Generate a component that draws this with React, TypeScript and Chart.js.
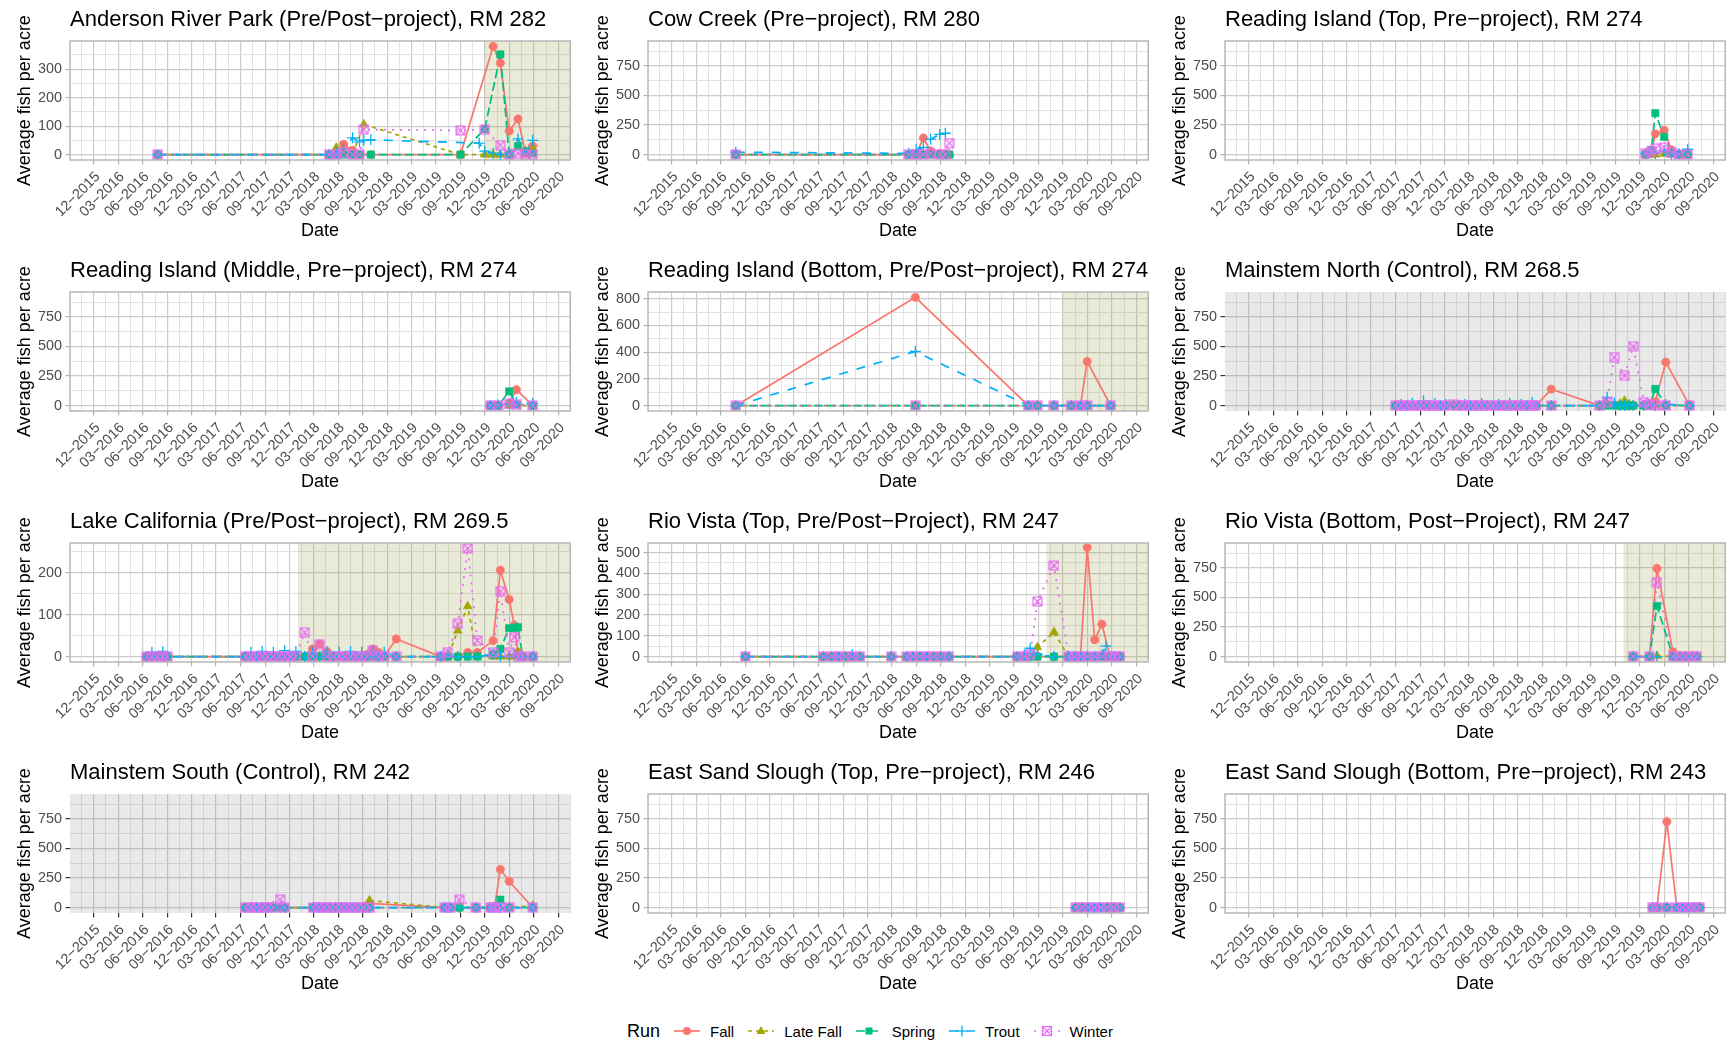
import React, { useEffect, useRef } from "react";
import { Chart, registerables } from "chart.js";

Chart.register(...registerables);

type Row = [string, number | null, number | null, number | null, number | null, number | null];

// Run names, in legend order; each row below is [date, Fall, Late Fall, Spring, Trout, Winter]
const RUNS = ["Fall", "Late Fall", "Spring", "Trout", "Winter"];

const X_TICK_LABELS = [
  "12−2015", "03−2016", "06−2016", "09−2016", "12−2016", "03−2017", "06−2017",
  "09−2017", "12−2017", "03−2018", "06−2018", "09−2018", "12−2018", "03−2019",
  "06−2019", "09−2019", "12−2019", "03−2020", "06−2020", "09−2020",
];
const X_RANGE = ["2015-09-03", "2020-10-15"];

const ANDERSON: Row[] = [
  ["2016-07-27", 0, 0, 0, 0, 0],
  ["2018-04-28", 0, 0, 0, 0, 0],
  ["2018-05-25", 5, 24, 0, 5, 0],
  ["2018-06-21", 36, 10, 0, 20, 8],
  ["2018-07-25", 15, 0, 0, 59, 0],
  ["2018-08-20", 0, null, 0, 45, 0],
  ["2018-09-05", null, 106, null, 50, 88],
  ["2018-10-01", 0, null, 0, 52, null],
  ["2019-09-01", 0, 0, 0, null, 85],
  ["2019-11-10", null, null, null, 40, null],
  ["2019-12-01", null, 0, 90, 12, 88],
  ["2020-01-01", 380, 0, null, 5, null],
  ["2020-01-28", 322, 0, 352, 0, 33],
  ["2020-03-01", 83, 0, 0, 5, 0],
  ["2020-04-03", 125, 25, 30, 55, 5],
  ["2020-05-01", 5, 10, 10, 10, 0],
  ["2020-05-28", 30, 20, 5, 50, 0],
];

const COW_CREEK: Row[] = [
  ["2016-07-27", 0, 0, 0, 20, 0],
  ["2018-05-04", 0, 0, 0, 10, 0],
  ["2018-06-01", 0, 0, 0, 40, 0],
  ["2018-06-28", 140, 0, 0, 60, 0],
  ["2018-07-25", 30, 0, 0, 130, 10],
  ["2018-08-28", 10, 0, 0, 170, 0],
  ["2018-09-18", 0, 0, 0, 180, 0],
  ["2018-10-03", 0, 0, 0, null, 97],
];

const READING_TOP: Row[] = [
  ["2019-12-22", 0, 0, 0, 10, 10],
  ["2020-01-13", 20, 0, 40, 20, 30],
  ["2020-01-28", 175, 0, 350, 10, 50],
  ["2020-03-01", 205, 5, 150, 30, 60],
  ["2020-03-28", 40, 0, 10, 0, 20],
  ["2020-04-25", 0, 0, 0, 10, 0],
  ["2020-05-28", 0, 0, 0, 45, 0],
];

const READING_MIDDLE: Row[] = [
  ["2019-12-22", 0, 0, 0, 0, 0],
  ["2020-01-20", 0, 0, 0, 5, 0],
  ["2020-03-01", 20, 0, 120, 10, 15],
  ["2020-03-28", 135, 0, 10, 25, 5],
  ["2020-05-28", 0, 0, 0, 15, 0],
];

const READING_BOTTOM: Row[] = [
  ["2016-07-27", 0, 0, 0, 0, 0],
  ["2018-05-29", 810, 0, 0, 405, 0],
  ["2019-07-25", 0, 0, 0, 0, 0],
  ["2019-08-28", 0, 0, 0, 0, 0],
  ["2019-10-29", 0, 0, 0, 0, 0],
  ["2020-01-01", 0, 0, 0, 0, 0],
  ["2020-02-05", 0, 0, 0, 0, 0],
  ["2020-03-01", 330, 0, 0, 0, 0],
  ["2020-05-28", 0, 0, 0, 0, 0],
];

const MAINSTEM_NORTH: Row[] = [
  ["2017-06-01", 0, 0, 0, 0, 0],
  ["2017-06-22", 0, 0, 0, 10, 0],
  ["2017-07-13", 0, 0, 0, 0, 0],
  ["2017-08-03", 0, 0, 0, 20, 0],
  ["2017-08-24", 0, 0, 0, 0, 0],
  ["2017-09-14", 0, 0, 0, 40, 0],
  ["2017-10-05", 0, 0, 0, 0, 0],
  ["2017-10-26", 0, 0, 0, 15, 0],
  ["2017-11-16", 0, 0, 0, 0, 0],
  ["2017-12-07", 0, 0, 0, 10, 0],
  ["2018-01-04", 0, 0, 0, 0, 10],
  ["2018-01-25", 0, 0, 0, 0, 0],
  ["2018-02-15", 0, 0, 0, 10, 0],
  ["2018-03-08", 0, 0, 0, 0, 0],
  ["2018-03-29", 0, 0, 0, 0, 0],
  ["2018-04-19", 0, 0, 0, 15, 0],
  ["2018-05-10", 0, 0, 0, 0, 0],
  ["2018-05-31", 0, 0, 0, 0, 0],
  ["2018-06-21", 0, 0, 0, 10, 0],
  ["2018-07-12", 0, 0, 0, 0, 0],
  ["2018-08-02", 0, 0, 0, 20, 0],
  ["2018-08-23", 0, 0, 0, 0, 0],
  ["2018-09-13", 0, 0, 0, 10, 0],
  ["2018-10-04", 0, 0, 0, 0, 0],
  ["2018-10-25", 0, 0, 0, 25, 0],
  ["2018-11-08", 0, 0, 0, 0, 0],
  ["2019-01-04", 139, 0, 0, 0, 0],
  ["2019-07-04", 0, 0, 0, 0, 0],
  ["2019-08-01", 10, 5, 0, 70, 30],
  ["2019-08-28", 5, 0, 0, 20, 410],
  ["2019-09-18", 0, 15, 0, 0, null],
  ["2019-10-05", 0, 40, 0, 0, 250],
  ["2019-10-22", 0, 10, 0, 5, null],
  ["2019-11-06", 0, 0, 0, 0, 500],
  ["2019-12-16", 5, 0, 0, 0, 30],
  ["2020-01-06", 10, 0, 0, 10, 10],
  ["2020-01-28", 35, 0, 140, 0, 0],
  ["2020-03-07", 367, 0, 5, 10, 0],
  ["2020-06-04", 0, 0, 0, 0, 0],
];

const LAKE_CALIFORNIA: Row[] = [
  ["2016-06-16", 0, 0, 0, 0, 0],
  ["2016-07-05", 0, 0, 0, 10, 0],
  ["2016-07-25", 0, 0, 0, 0, 0],
  ["2016-08-15", 0, 0, 0, 12, 0],
  ["2016-09-01", 0, 0, 0, 0, 0],
  ["2017-06-19", 0, 0, 0, 0, 0],
  ["2017-07-10", 0, 0, 0, 10, 0],
  ["2017-07-31", 0, 0, 0, 0, 0],
  ["2017-08-21", 0, 0, 0, 12, 0],
  ["2017-09-11", 0, 0, 0, 0, 0],
  ["2017-10-02", 0, 0, 0, 10, 0],
  ["2017-10-23", 0, 0, 0, 0, 0],
  ["2017-11-13", 0, 0, 0, 14, 0],
  ["2017-12-04", 0, 0, 0, 0, 0],
  ["2017-12-25", 0, 0, 0, 12, 0],
  ["2018-01-27", 0, 0, 0, 0, 58],
  ["2018-02-25", 18, 0, 0, 10, 0],
  ["2018-03-24", 30, 0, 0, 0, 28],
  ["2018-04-20", 12, 0, 0, 12, 0],
  ["2018-05-15", 0, 0, 0, 0, 0],
  ["2018-06-05", 0, 0, 0, 10, 0],
  ["2018-06-26", 0, 0, 0, 0, 0],
  ["2018-07-17", 0, 0, 0, 12, 0],
  ["2018-08-07", 0, 0, 0, 0, 0],
  ["2018-08-28", 0, 0, 0, 10, 0],
  ["2018-09-18", 5, 0, 0, 0, 0],
  ["2018-10-09", 18, 0, 0, 12, 15],
  ["2018-10-30", 10, 0, 0, 0, 0],
  ["2018-11-20", 0, 0, 0, 10, 0],
  ["2019-01-04", 42, 0, 0, 0, 0],
  ["2019-06-19", 0, 0, 0, 0, 0],
  ["2019-07-16", 0, 0, 0, 5, 10],
  ["2019-08-22", 0, 62, 0, 0, 78],
  ["2019-09-28", 10, 120, 0, 0, 258],
  ["2019-11-03", 10, 0, 0, 0, 38],
  ["2020-01-01", 38, 0, 5, 5, 10],
  ["2020-01-28", 206, 0, 18, 0, 156],
  ["2020-03-01", 136, 0, 68, 0, 10],
  ["2020-03-20", 75, 0, 68, 5, 46],
  ["2020-04-03", 10, 10, 70, 0, 0],
  ["2020-04-20", 0, 0, 0, 0, 0],
  ["2020-05-28", 0, 0, 0, 0, 0],
];

const RIO_VISTA_TOP: Row[] = [
  ["2016-09-01", 0, 0, 0, 0, 0],
  ["2017-06-19", 0, 0, 0, 0, 0],
  ["2017-07-20", 0, 0, 0, 0, 0],
  ["2017-08-15", 0, 0, 0, 0, 0],
  ["2017-09-10", 0, 0, 0, 0, 0],
  ["2017-10-05", 0, 0, 0, 10, 0],
  ["2017-11-03", 0, 0, 0, 0, 0],
  ["2018-02-27", 0, 0, 0, 0, 0],
  ["2018-04-27", 0, 0, 0, 0, 0],
  ["2018-05-20", 0, 0, 0, 0, 0],
  ["2018-06-15", 0, 0, 0, 0, 0],
  ["2018-07-10", 0, 0, 0, 0, 0],
  ["2018-08-05", 0, 0, 0, 0, 0],
  ["2018-09-01", 0, 0, 0, 0, 0],
  ["2018-10-01", 0, 0, 0, 0, 0],
  ["2019-06-13", 0, 0, 0, 0, 0],
  ["2019-07-10", 0, 0, 0, 10, 0],
  ["2019-08-01", 0, 0, 0, 40, 10],
  ["2019-08-28", 0, 45, 0, 10, 265],
  ["2019-10-29", 0, 118, 0, 0, 438],
  ["2019-12-22", 0, 0, 0, 0, 0],
  ["2020-01-15", 0, 0, 0, 0, 0],
  ["2020-02-05", 0, 0, 0, 0, 0],
  ["2020-03-01", 524, 0, 0, 0, 0],
  ["2020-03-29", 81, 0, 0, 0, 0],
  ["2020-04-25", 156, 0, 0, 10, 0],
  ["2020-05-10", null, null, null, 50, null],
  ["2020-05-25", 0, 0, 0, 0, 0],
  ["2020-06-10", 0, 0, 0, 0, 0],
  ["2020-07-01", 0, 0, 0, 0, 0],
];

const RIO_VISTA_BOTTOM: Row[] = [
  ["2019-11-06", 0, 0, 0, 0, 0],
  ["2020-01-06", 0, 0, 0, 0, 0],
  ["2020-02-03", 744, 5, 427, 0, 629],
  ["2020-04-03", 40, 0, 0, 0, 0],
  ["2020-04-28", 0, 0, 0, 0, 0],
  ["2020-05-20", 0, 0, 0, 0, 0],
  ["2020-06-12", 0, 0, 0, 0, 0],
  ["2020-07-01", 0, 0, 0, 0, 0],
];

const MAINSTEM_SOUTH: Row[] = [
  ["2017-06-19", 0, 0, 0, 0, 0],
  ["2017-07-10", 0, 0, 0, 0, 0],
  ["2017-07-31", 0, 0, 0, 0, 0],
  ["2017-08-21", 0, 0, 0, 0, 0],
  ["2017-09-11", 0, 0, 0, 0, 0],
  ["2017-10-02", 0, 0, 0, 10, 0],
  ["2017-10-27", 0, 0, 0, 0, 70],
  ["2017-11-13", 0, 0, 0, 0, 0],
  ["2018-02-27", 0, 0, 0, 0, 0],
  ["2018-03-20", 0, 0, 0, 0, 0],
  ["2018-04-10", 0, 0, 0, 0, 0],
  ["2018-05-01", 0, 0, 0, 0, 0],
  ["2018-05-22", 0, 0, 0, 0, 0],
  ["2018-06-12", 0, 0, 0, 0, 0],
  ["2018-07-03", 0, 0, 0, 0, 0],
  ["2018-07-24", 0, 0, 0, 0, 0],
  ["2018-08-14", 0, 0, 0, 0, 0],
  ["2018-09-04", 0, 0, 0, 0, 0],
  ["2018-09-26", 35, 60, 0, 0, 0],
  ["2019-07-04", 0, 0, 0, 0, 0],
  ["2019-07-25", 0, 0, 0, 0, 0],
  ["2019-08-28", 0, 0, 0, 0, 65],
  ["2019-10-29", 0, 0, 0, 0, 0],
  ["2019-12-22", 0, 0, 0, 0, 0],
  ["2020-01-06", 0, 0, 0, 0, 0],
  ["2020-01-28", 323, 0, 67, 0, 0],
  ["2020-03-01", 222, 0, 0, 0, 0],
  ["2020-05-28", 0, 15, 0, 0, 0],
];

const EAST_SAND_TOP: Row[] = [
  ["2020-01-18", 0, 0, 0, 0, 0],
  ["2020-02-10", 0, 0, 0, 0, 0],
  ["2020-03-05", 0, 0, 0, 0, 0],
  ["2020-03-28", 0, 0, 0, 0, 0],
  ["2020-04-20", 0, 0, 0, 0, 0],
  ["2020-05-15", 0, 0, 0, 0, 0],
  ["2020-06-08", 0, 0, 0, 0, 0],
  ["2020-07-01", 0, 0, 0, 0, 0],
];

const EAST_SAND_BOTTOM: Row[] = [
  ["2020-01-18", 0, 0, 0, 0, 0],
  ["2020-02-03", 0, 0, 0, 0, 0],
  ["2020-03-11", 725, 0, 0, 0, 0],
  ["2020-04-17", 0, 0, 0, 0, 0],
  ["2020-05-08", 0, 0, 0, 0, 0],
  ["2020-05-30", 0, 0, 0, 0, 0],
  ["2020-06-20", 0, 0, 0, 0, 0],
  ["2020-07-12", 0, 0, 0, 0, 0],
];

const PANEL_TITLES = [
  "Anderson River Park (Pre/Post−project), RM 282",
  "Cow Creek (Pre−project), RM 280",
  "Reading Island (Top, Pre−project), RM 274",
  "Reading Island (Middle, Pre−project), RM 274",
  "Reading Island (Bottom, Pre/Post−project), RM 274",
  "Mainstem North (Control), RM 268.5",
  "Lake California (Pre/Post−project), RM 269.5",
  "Rio Vista (Top, Pre/Post−Project), RM 247",
  "Rio Vista (Bottom, Post−Project), RM 247",
  "Mainstem South (Control), RM 242",
  "East Sand Slough (Top, Pre−project), RM 246",
  "East Sand Slough (Bottom, Pre−project), RM 243",
];
const PANEL_ROWS = [
  ANDERSON, COW_CREEK, READING_TOP, READING_MIDDLE, READING_BOTTOM, MAINSTEM_NORTH,
  LAKE_CALIFORNIA, RIO_VISTA_TOP, RIO_VISTA_BOTTOM, MAINSTEM_SOUTH, EAST_SAND_TOP, EAST_SAND_BOTTOM,
];
// y-axis limits and major step per panel
const PANEL_Y: [number, number, number][] = [
  [-19, 399, 100], [-46, 960, 250], [-46, 960, 250],
  [-46, 960, 250], [-40, 850, 200], [-46, 960, 250],
  [-13, 271, 100], [-26, 546, 100], [-46, 960, 250],
  [-46, 960, 250], [-46, 960, 250], [-46, 960, 250],
];
// project phase shading: "post" from a date onward, "control" over the whole panel
const PANEL_SHADE: ([string, string] | null)[] = [
  ["post", "2019-12-01"], null, null,
  null, ["post", "2019-12-01"], ["control", ""],
  ["post", "2018-01-01"], ["post", "2019-10-01"], ["post", "2019-10-01"],
  ["control", ""], null, null,
];

const RUN_COLORS = ["#F8766D", "#A3A500", "#00BF7D", "#00B0F6", "#E76BF3"];
const RUN_DASHES = [[], [4, 4], [9, 4], [9, 9], [2, 6]];
const SHADE_COLORS: Record<string, string> = {
  post: "rgba(150, 150, 60, 0.2)",
  control: "rgba(120, 120, 120, 0.16)",
};

const FONT = "'Liberation Sans', Arial, Helvetica, sans-serif";
const CELL_W = 577;
const CELL_H = 251;
const COL_X = [0, 578, 1155];
const ROW_Y = [0, 251, 502, 753];

const toTs = (d: string) => Date.parse(d + "T00:00:00Z");
const labelToTs = (l: string) => {
  const [m, y] = l.split("−");
  return Date.UTC(Number(y), Number(m) - 1, 1);
};

const X_MAJOR = X_TICK_LABELS.map(labelToTs);
const X_MINOR = (() => {
  const out: number[] = [];
  out.push(X_MAJOR[0] - (X_MAJOR[1] - X_MAJOR[0]) / 2);
  for (let i = 0; i < X_MAJOR.length - 1; i++) out.push((X_MAJOR[i] + X_MAJOR[i + 1]) / 2);
  const n = X_MAJOR.length;
  out.push(X_MAJOR[n - 1] + (X_MAJOR[n - 1] - X_MAJOR[n - 2]) / 2);
  return out;
})();
const X_MIN = toTs(X_RANGE[0]);
const X_MAX = toTs(X_RANGE[1]);
const X_LABEL_BY_TS = new Map(X_MAJOR.map((t, i) => [t, X_TICK_LABELS[i]]));

let winterCanvas: HTMLCanvasElement | null = null;
function winterMarker() {
  if (winterCanvas) return winterCanvas;
  const s = 11;
  const c = document.createElement("canvas");
  c.width = s;
  c.height = s;
  const g = c.getContext("2d")!;
  g.strokeStyle = RUN_COLORS[4];
  g.lineWidth = 1.2;
  g.strokeRect(1.1, 1.1, s - 2.2, s - 2.2);
  g.beginPath();
  g.moveTo(1.5, 1.5);
  g.lineTo(s - 1.5, s - 1.5);
  g.moveTo(s - 1.5, 1.5);
  g.lineTo(1.5, s - 1.5);
  g.stroke();
  winterCanvas = c;
  return c;
}

function pointOptions(i: number) {
  const color = RUN_COLORS[i];
  switch (i) {
    case 0:
      return { pointStyle: "circle", pointRadius: 4.2, pointBackgroundColor: color, pointBorderColor: color, pointBorderWidth: 0.5 };
    case 1:
      return { pointStyle: "triangle", pointRadius: 5.2, pointBackgroundColor: color, pointBorderColor: color, pointBorderWidth: 0.5 };
    case 2:
      return { pointStyle: "rect", pointRadius: 5.2, pointBackgroundColor: color, pointBorderColor: color, pointBorderWidth: 0.5 };
    case 3:
      return { pointStyle: "cross", pointRadius: 5.5, pointBackgroundColor: color, pointBorderColor: color, pointBorderWidth: 1.3 };
    default:
      return { pointStyle: winterMarker(), pointRadius: 5, pointBackgroundColor: color, pointBorderColor: color, pointBorderWidth: 1 };
  }
}

const panelPlugin = {
  id: "panelDecor",
  beforeDatasetsDraw(chart: any, _args: any, opts: any) {
    const shade = opts && opts.shade;
    if (!shade) return;
    const { ctx, chartArea: a, scales } = chart;
    const x0 = shade[1] ? Math.max(a.left, scales.x.getPixelForValue(toTs(shade[1]))) : a.left;
    ctx.save();
    ctx.fillStyle = SHADE_COLORS[shade[0]];
    ctx.fillRect(x0, a.top, a.right - x0, a.bottom - a.top);
    ctx.restore();
  },
  afterDatasetsDraw(chart: any, _args: any, opts: any) {
    if (opts && opts.control) return;
    const { ctx, chartArea: a } = chart;
    ctx.save();
    ctx.strokeStyle = "#B3B3B3";
    ctx.lineWidth = 1.4;
    ctx.strokeRect(a.left, a.top, a.right - a.left, a.bottom - a.top);
    ctx.restore();
  },
};

function buildConfig(k: number): any {
  const rows = PANEL_ROWS[k];
  const [yMin, yMax, step] = PANEL_Y[k];
  const shade = PANEL_SHADE[k];
  const isControl = !!shade && shade[0] === "control";
  const yMajor: number[] = [];
  for (let v = 0; v <= yMax; v += step) yMajor.push(v);
  const yMinor: number[] = [];
  for (let v = step / 2; v <= yMax; v += step) yMinor.push(v);
  const yMajorSet = new Set(yMajor);
  const xMajorSet = new Set(X_MAJOR);

  const datasets: any[] = [];
  RUNS.forEach((run, i) => {
    const pts = rows
      .filter((r) => r[i + 1] !== null)
      .map((r) => ({ x: toTs(r[0]), y: r[i + 1] as number }));
    datasets.push({
      label: run + " trend",
      data: pts,
      showLine: true,
      borderColor: RUN_COLORS[i],
      borderWidth: 1.7,
      borderDash: RUN_DASHES[i],
      pointRadius: 0,
      tension: 0,
      fill: false,
      order: 10 + (4 - i),
    });
    datasets.push({
      label: run,
      data: pts,
      showLine: false,
      ...pointOptions(i),
      order: 4 - i,
    });
  });

  const majorTick = isControl ? "#333333" : "#B3B3B3";
  const gridColor = (set: Set<number>) => (ctx: any) =>
    ctx.tick && set.has(ctx.tick.value) ? "#CCCCCC" : "#E0E0E0";
  const gridWidth = (set: Set<number>) => (ctx: any) =>
    ctx.tick && set.has(ctx.tick.value) ? 1.2 : 0.9;
  const tickColor = (set: Set<number>) => (ctx: any) =>
    ctx.tick && set.has(ctx.tick.value) ? majorTick : "rgba(0,0,0,0)";

  return {
    type: "line",
    data: { datasets },
    plugins: [panelPlugin],
    options: {
      responsive: false,
      animation: false,
      events: [],
      layout: { padding: { left: 0, right: CELL_W - 572, top: 0, bottom: 0 } },
      plugins: {
        legend: { display: false },
        tooltip: { enabled: false },
        panelDecor: { shade, control: isControl },
        title: {
          display: true,
          text: PANEL_TITLES[k],
          align: "start",
          fullSize: false,
          color: "#000000",
          font: { family: FONT, size: 22, weight: "normal" },
          padding: { top: 6.3, bottom: 8.3 },
        },
      },
      scales: {
        x: {
          type: "linear",
          min: X_MIN,
          max: X_MAX,
          afterBuildTicks: (s: any) => {
            s.ticks = [...X_MINOR, ...X_MAJOR].sort((a, b) => a - b).map((v) => ({ value: v }));
          },
          afterFit: (s: any) => {
            s.height = CELL_H - 160;
            s.paddingLeft = 0;
            s.paddingRight = 0;
          },
          ticks: {
            autoSkip: false,
            minRotation: 45,
            maxRotation: 45,
            padding: 4,
            labelOffset: 4,
            color: "#4D4D4D",
            font: { family: FONT, size: 14.4 },
            callback: (v: number) => X_LABEL_BY_TS.get(v) ?? "",
          },
          grid: {
            color: gridColor(xMajorSet),
            lineWidth: gridWidth(xMajorSet),
            tickColor: tickColor(xMajorSet),
            tickLength: 4.5,
            tickWidth: 1.2,
          },
          border: { display: false },
          title: {
            display: true,
            text: "Date",
            color: "#000000",
            font: { family: FONT, size: 18 },
            padding: { top: 0, bottom: 8.7 },
          },
        },
        y: {
          type: "linear",
          min: yMin,
          max: yMax,
          afterBuildTicks: (s: any) => {
            s.ticks = [...yMinor, ...yMajor].sort((a, b) => a - b).map((v) => ({ value: v }));
          },
          afterFit: (s: any) => {
            s.width = 70;
            s.paddingTop = 0;
            s.paddingBottom = 0;
          },
          ticks: {
            autoSkip: false,
            padding: 3.6,
            color: "#4D4D4D",
            font: { family: FONT, size: 14.4 },
            callback: (v: number) => (yMajorSet.has(v) ? String(v) : ""),
          },
          grid: {
            color: gridColor(yMajorSet),
            lineWidth: gridWidth(yMajorSet),
            tickColor: tickColor(yMajorSet),
            tickLength: 4.5,
            tickWidth: 1.2,
          },
          border: { display: false },
          title: {
            display: true,
            text: "Average fish per acre",
            color: "#000000",
            font: { family: FONT, size: 18 },
            padding: { top: 14, bottom: 0 },
          },
        },
      },
    },
  };
}

function Panel({ index }: { index: number }) {
  const ref = useRef<HTMLCanvasElement>(null);
  useEffect(() => {
    const chart = new Chart(ref.current!, buildConfig(index));
    return () => chart.destroy();
  }, [index]);
  return (
    <canvas
      ref={ref}
      width={CELL_W}
      height={CELL_H}
      style={{
        position: "absolute",
        left: COL_X[index % 3],
        top: ROW_Y[Math.floor(index / 3)],
        width: CELL_W,
        height: CELL_H,
      }}
    />
  );
}

function LegendKey({ i }: { i: number }) {
  const c = RUN_COLORS[i];
  const dash = RUN_DASHES[i].join(" ");
  let marker: React.ReactNode;
  if (i === 0) marker = <circle cx={14} cy={9} r={4} fill={c} />;
  else if (i === 1) marker = <polygon points="14,4 18.5,12 9.5,12" fill={c} />;
  else if (i === 2) marker = <rect x={10.5} y={5.5} width={7} height={7} fill={c} />;
  else if (i === 3)
    marker = (
      <g stroke={c} strokeWidth={1.3}>
        <line x1={8.5} y1={9} x2={19.5} y2={9} />
        <line x1={14} y1={3.5} x2={14} y2={14.5} />
      </g>
    );
  else
    marker = (
      <g stroke={c} strokeWidth={1.2} fill="none">
        <rect x={9.5} y={4.5} width={9} height={9} />
        <line x1={9.5} y1={4.5} x2={18.5} y2={13.5} />
        <line x1={18.5} y1={4.5} x2={9.5} y2={13.5} />
      </g>
    );
  return (
    <svg width={28} height={18} style={{ display: "block" }}>
      <line x1={1} y1={9} x2={27} y2={9} stroke={c} strokeWidth={1.7} strokeDasharray={dash || undefined} />
      {marker}
    </svg>
  );
}

function Legend() {
  return (
    <div
      style={{
        position: "absolute",
        left: 627,
        top: 1018,
        height: 26,
        display: "flex",
        alignItems: "center",
        fontFamily: FONT,
        color: "#000",
      }}
    >
      <span style={{ fontSize: 18, marginRight: 13 }}>Run</span>
      {RUNS.map((r, i) => (
        <div key={r} style={{ display: "flex", alignItems: "center", marginRight: 13 }}>
          <LegendKey i={i} />
          <span style={{ fontSize: 15, marginLeft: 9 }}>{r}</span>
        </div>
      ))}
    </div>
  );
}

export default function App() {
  return (
    <div
      style={{
        position: "absolute",
        left: 0,
        top: 0,
        width: 1732,
        height: 1043,
        background: "#ffffff",
        overflow: "hidden",
      }}
    >
      {PANEL_TITLES.map((_, k) => (
        <Panel key={k} index={k} />
      ))}
      <Legend />
    </div>
  );
}
